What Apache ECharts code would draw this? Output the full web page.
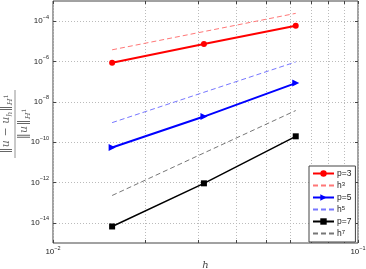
<!DOCTYPE html>
<html>
<head>
<meta charset="utf-8">
<script src="https://cdn.jsdelivr.net/npm/echarts@6/dist/echarts.min.js"></script>
<style>html,body{margin:0;padding:0;background:#fff;}#c{width:366px;height:269px;}</style>
</head>
<body>
<div id="c"></div>
<script>
// ---- data ----
var hValues = [0.015625, 0.03125, 0.0625];
var errP3 = [8.7e-7, 7.4e-6, 5.9e-5];
var refH3 = [3.8e-6, 3.05e-5, 2.44e-4];
var errP5 = [5.4e-11, 1.86e-9, 8.5e-8];
var refH5 = [9.3e-10, 2.98e-8, 9.5e-7];
var errP7 = [6.6e-15, 9.1e-13, 1.95e-10];
var refH7 = [2.27e-13, 2.91e-11, 3.7e-9];
var xTickValues = [0.01, 0.02, 0.03, 0.04, 0.05, 0.06, 0.07, 0.08, 0.09, 0.1];
var xLabelValues = [0.01, 0.1];
var yTickValues = [1e-14, 1e-12, 1e-10, 1e-8, 1e-6, 1e-4];
var legendNames = ['p=3', 'h^3', 'p=5', 'h^5', 'p=7', 'h^7'];

function pairs(ys) { return hValues.map(function (h, i) { return [h, ys[i]]; }); }
function expLabel(v) {
  var e = Math.round(Math.log10(v));
  return '{m|10}{s|' + (e < 0 ? '\u2212' + (-e) : e) + '}';
}
var labelRich = {
  m: { fontSize: 8, lineHeight: 14, color: '#222', fontFamily: 'Liberation Sans' },
  s: { fontSize: 5.5, lineHeight: 7, verticalAlign: 'top', color: '#222', fontFamily: 'Liberation Sans' }
};
var gridLine = { show: true, lineStyle: { color: '#bbb', width: 1, type: [1, 2] } };
var tickStyle = { color: '#444', width: 1 };

var chart = echarts.init(document.getElementById('c'), null, { renderer: 'canvas' });
var dash = [5, 3];
var mathColor = '#666';
var mathRich = {
  b: { fontSize: 13, lineHeight: 16, fill: mathColor, fontFamily: 'DejaVu Serif' },
  i: { fontSize: 11, lineHeight: 16, fill: mathColor, fontFamily: 'DejaVu Serif', fontStyle: 'italic' },
  n: { fontSize: 11, lineHeight: 16, fill: mathColor, fontFamily: 'DejaVu Serif' },
  sub: { fontSize: 8, lineHeight: 8, verticalAlign: 'bottom', fill: mathColor, fontFamily: 'DejaVu Serif', fontStyle: 'italic' },
  sup: { fontSize: 6, lineHeight: 6, fill: mathColor, fontFamily: 'DejaVu Serif' }
};
chart.setOption({
  animation: false,
  backgroundColor: '#fff',
  grid: { left: 53, right: 8, top: 1, bottom: 26, containLabel: false, outerBoundsMode: 'none',
    show: true, borderColor: '#444', borderWidth: 1, backgroundColor: 'transparent' },
  xAxis: [{
    type: 'log', logBase: 10, min: 0.01, max: 0.1,
    axisLine: { show: false },
    axisTick: { show: true, inside: true, length: 3, customValues: xTickValues, lineStyle: tickStyle },
    axisLabel: { show: true, customValues: xLabelValues, formatter: expLabel, rich: labelRich, margin: 2 },
    splitLine: gridLine,
    name: 'h', nameLocation: 'middle', nameGap: 16,
    nameTextStyle: { fontFamily: 'DejaVu Serif', fontStyle: 'italic', fontSize: 10, color: '#444' }
  }, {
    type: 'log', logBase: 10, min: 0.01, max: 0.1, position: 'top',
    axisLine: { show: false },
    axisTick: { show: true, inside: true, length: 3, customValues: xTickValues, lineStyle: tickStyle },
    axisLabel: { show: false }, splitLine: { show: false }
  }],
  yAxis: [{
    type: 'log', logBase: 10, min: 1e-15, max: 1e-3,
    axisLine: { show: false },
    axisTick: { show: true, inside: true, length: 3, customValues: yTickValues, lineStyle: tickStyle },
    axisLabel: { show: true, customValues: yTickValues, formatter: expLabel, rich: labelRich, margin: 4 },
    splitLine: gridLine
  }, {
    type: 'log', logBase: 10, min: 1e-15, max: 1e-3, position: 'right',
    axisLine: { show: false },
    axisTick: { show: true, inside: true, length: 3, customValues: yTickValues, lineStyle: tickStyle },
    axisLabel: { show: false }, splitLine: { show: false }
  }],
  legend: {
    orient: 'vertical', left: 309, top: 166,
    padding: [3, 4, 4, 3],
    backgroundColor: '#fff', borderColor: '#444', borderWidth: 1, borderRadius: 0,
    itemWidth: 21, itemHeight: 8, itemGap: 3,
    data: legendNames.map(function (n) {
      return n.charAt(0) === 'h' ? { name: n, itemStyle: { color: 'rgba(0,0,0,0)', borderWidth: 0, opacity: 0 } } : { name: n };
    }),
    formatter: function (n) {
      if (n.charAt(0) === 'h') return '{t|h}{u|' + n.slice(2) + '}';
      return '{t|' + n + '}';
    },
    textStyle: {
      padding: [0, 0, 0, -2],
      rich: {
        t: { fontSize: 8.5, lineHeight: 9, color: '#222', fontFamily: 'Liberation Sans' },
        u: { fontSize: 6, lineHeight: 5, verticalAlign: 'top', color: '#222', fontFamily: 'Liberation Sans' }
      }
    }
  },
  graphic: [{
    type: 'group', x: 15, y: 124, rotation: Math.PI / 2,
    children: [
      { type: 'line', shape: { x1: -34, y1: 0, x2: 34, y2: 0 }, style: { stroke: '#777', lineWidth: 0.8 } },
      { type: 'text', x: 0, y: -1, style: {
        text: '{b|\u2016}{i|u}{n| \u2212 }{i|u}{sub|h}{b|\u2016}{sub|H}{sup|1}',
        align: 'center', verticalAlign: 'bottom', rich: mathRich
      } },
      { type: 'text', x: 0, y: 1, style: {
        text: '{b|\u2016}{i|u}{b|\u2016}{sub|H}{sup|1}',
        align: 'center', verticalAlign: 'top', rich: mathRich
      } }
    ]
  }],
  series: [
    { name: 'p=3', type: 'line', data: pairs(errP3), symbol: 'circle', symbolSize: 6,
      lineStyle: { color: '#ff0000', width: 2 }, itemStyle: { color: '#ff0000' }, z: 5 },
    { name: 'h^3', type: 'line', data: pairs(refH3), symbol: 'none',
      lineStyle: { color: '#ff7777', width: 1, type: dash }, itemStyle: { color: '#ff7777' } },
    { name: 'p=5', type: 'line', data: pairs(errP5), symbol: 'triangle', symbolSize: 7, symbolRotate: -90,
      lineStyle: { color: '#0000ff', width: 2 }, itemStyle: { color: '#0000ff' }, z: 5 },
    { name: 'h^5', type: 'line', data: pairs(refH5), symbol: 'none',
      lineStyle: { color: '#7777ff', width: 1, type: dash }, itemStyle: { color: '#7777ff' } },
    { name: 'p=7', type: 'line', data: pairs(errP7), symbol: 'rect', symbolSize: 6,
      lineStyle: { color: '#000000', width: 1.5 }, itemStyle: { color: '#000000' }, z: 5 },
    { name: 'h^7', type: 'line', data: pairs(refH7), symbol: 'none',
      lineStyle: { color: '#777777', width: 1, type: dash }, itemStyle: { color: '#777777' } }
  ]
});
</script>
</body>
</html>
